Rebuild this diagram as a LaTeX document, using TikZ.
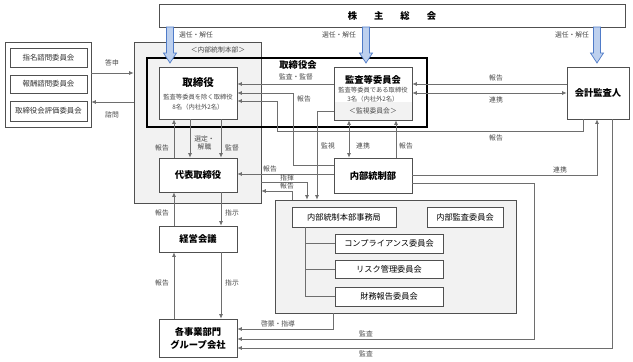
\documentclass[tikz,border=0pt]{standalone}
\usepackage{fontspec}
\setmainfont{Noto Sans CJK JP}
\usetikzlibrary{arrows.meta}
\definecolor{bordercol}{HTML}{505050}
\definecolor{linecol}{HTML}{6E6E6E}
\definecolor{lblcol}{HTML}{4A4A4A}
\definecolor{grayfill}{HTML}{F2F2F2}
\definecolor{fatfill}{HTML}{BDD0EE}
\definecolor{fatdraw}{HTML}{4F7BC8}
\tikzset{
  box/.style={draw=bordercol, line width=0.8pt, fill=white, inner sep=0pt, align=center},
  graybox/.style={draw=bordercol, line width=0.8pt, fill=grayfill, inner sep=0pt},
  conn/.style={draw=linecol, line width=0.7pt},
  arr/.style={conn, -{Latex[length=4.5pt,width=4pt]}},
  darr/.style={conn, {Latex[length=4.5pt,width=4pt]}-{Latex[length=4.5pt,width=4pt]}},
  lbl/.style={font=\fontsize{6.8}{7.5}\selectfont, text=lblcol, inner sep=0pt, align=center},
  ttl/.style={font=\fontsize{9.3}{13}\selectfont\bfseries, inner sep=0pt, align=center},
  bigttl/.style={font=\fontsize{10.5}{12}\selectfont\bfseries, inner sep=0pt},
  subtxt/.style={font=\fontsize{6.3}{7}\selectfont, text=lblcol, inner sep=0pt},
  small/.style={font=\fontsize{7.4}{8}\selectfont, text=black!80},
  comm/.style={font=\fontsize{8.2}{9}\selectfont},
  fat/.style={draw=fatdraw, fill=fatfill, line width=0.7pt, line join=miter}
}
\begin{document}
\begin{tikzpicture}[x=1pt,y=-1pt]
\useasboundingbox (0,0) rectangle (633,362);
\fill[white] (0,0) rectangle (633,362);

% containers
\node[graybox, minimum width=127pt, minimum height=161pt] (honbu) at (197.5,122.5) {};
\node[lbl] (honbutxt) at (218,50) {＜内部統制本部＞};
\node[graybox, minimum width=241pt, minimum height=113pt] (jimugray) at (395.5,256.5) {};
\node[draw=black, line width=1.6pt, inner sep=0pt, minimum width=280pt, minimum height=69pt] (kai) at (287,92.5) {};
\node[ttl] (kaitxt) at (298,65) {取締役会};

% shareholders
\node[box, ttl, minimum width=466pt, minimum height=23pt] (kabu) at (392,15.5) {株\hspace{17pt}主\hspace{17pt}総\hspace{17pt}会};
\foreach \c in {170,366,597}
  \draw[fat] ({\c-3.5},27) -- ({\c-3.5},53) -- ({\c-6.5},53) -- (\c,63) -- ({\c+6.5},53) -- ({\c+3.5},53) -- ({\c+3.5},27) -- cycle;
\node[lbl] (sen1) at (196,35) {選任・解任};
\node[lbl] (sen2) at (339,35) {選任・解任};
\node[lbl] (sen3) at (572,35) {選任・解任};

% left group
\node[box, minimum width=86pt, minimum height=85pt] (leftgrp) at (48,84.5) {};
\node[box, small, minimum width=77pt, minimum height=19pt] (shimei) at (48.5,57.5) {指名諮問委員会};
\node[box, small, minimum width=77pt, minimum height=18pt] (hoshu) at (48.5,84) {報酬諮問委員会};
\node[box, small, minimum width=77pt, minimum height=20pt] (hyoka) at (48.5,111) {取締役会評価委員会};

% main boxes
\node[box, minimum width=78pt, minimum height=52pt] (tori) at (198,93) {};
\node[bigttl] (toritxt) at (198,82.5) {取締役};
\node[subtxt] (torisub1) at (198,97.5) {監査等委員を除く取締役};
\node[subtxt] (torisub2) at (198,107.5) {8名（内社外2名）};

\node[box, minimum width=78pt, minimum height=53pt] (kansa) at (373,93.5) {};
\fill[grayfill] (334.5,102) rectangle (411.5,119.6);
\node[ttl] (kansatxt) at (373,80) {監査等委員会};
\node[subtxt] (kansasub1) at (373,90.5) {監査等委員である取締役};
\node[subtxt] (kansasub2) at (373,99) {3名（内社外2名）};
\node[lbl] (kansaband) at (373,110.5) {＜監視委員会＞};

\node[box, ttl, minimum width=62pt, minimum height=52pt] (kaikei) at (598,93) {会計監査人};
\node[box, ttl, minimum width=78pt, minimum height=34pt] (daihyo) at (198,175) {代表取締役};
\node[box, ttl, minimum width=78pt, minimum height=35pt] (naibu) at (373,175.5) {内部統制部};
\node[box, ttl, minimum width=78pt, minimum height=26pt] (keiei) at (198,239) {経営会議};
\node[box, ttl, minimum width=78pt, minimum height=38pt] (kaku) at (198,338) {各事業部門\\グループ会社};

% committees
\node[box, comm, minimum width=104pt, minimum height=20pt] (jimu) at (344,217) {内部統制本部事務局};
\node[box, comm, minimum width=76pt, minimum height=20pt] (naikan) at (465,217) {内部監査委員会};
\node[box, comm, minimum width=108pt, minimum height=19pt] (comp) at (389,243.5) {コンプライアンス委員会};
\node[box, comm, minimum width=108pt, minimum height=18pt] (risk) at (389,269) {リスク管理委員会};
\node[box, comm, minimum width=108pt, minimum height=19pt] (zaimu) at (389,296.5) {財務報告委員会};
\draw[conn] (jimu.south -| 305,0) |- (zaimu.west);
\draw[conn] (comp.west) -- (comp.west -| 305,0);
\draw[conn] (risk.west) -- (risk.west -| 305,0);

% connectors
\draw[arr] (leftgrp.east |- 0,73) -- (honbu.west |- 0,73);
\node[lbl] (l1) at (112,63) {答申};
\draw[arr] (honbu.west |- 0,102) -- (leftgrp.east |- 0,102);
\node[lbl] (l2) at (112,115) {諮問};

\draw[arr] (kansa.west |- 0,84) -- (tori.east |- 0,84);
\node[lbl] (l3) at (296,77) {監査・監督};
\draw[arr] (naibu.west |- 0,165) -| (293,93) -- (tori.east |- 0,93);
\node[lbl] (l4) at (304,98.5) {報告};
\draw[arr] (kaikei.south -| 583,0) |- (277,131) |- (tori.east |- 0,101);
\node[lbl] (l5) at (496,138) {報告};
\draw[arr] (kaikei.west |- 0,84) -- (kansa.east |- 0,84);
\node[lbl] (l6) at (496,78) {報告};
\draw[darr] (kansa.east |- 0,93) -- (kaikei.west |- 0,93);
\node[lbl] (l7) at (496,100) {連携};

\draw[arr] (kansa.west |- 0,111) -| (jimugray.north -| 317,0);
\node[lbl] (l8) at (328,146) {監視};
\draw[darr] (kansa.south -| 349,0) -- (naibu.north -| 349,0);
\node[lbl] (l9) at (363,146) {連携};
\draw[arr] (naibu.north -| 396,0) -- (kansa.south -| 396,0);
\node[lbl] (l10) at (406,146) {報告};

\draw[arr] (daihyo.north -| 174,0) -- (tori.south -| 174,0);
\node[lbl] (l11) at (162,148) {報告};
\draw[arr] (tori.south -| 190,0) -- (daihyo.north -| 190,0);
\node[lbl] (l12) at (204.5,143) {選定・\\解職};
\draw[arr] (tori.south -| 221,0) -- (daihyo.north -| 221,0);
\node[lbl] (l13) at (232,148) {監督};

\draw[arr] (naibu.west |- 0,174) -- (daihyo.east |- 0,174);
\node[lbl] (l14) at (270,169) {報告};
\draw[arr] (honbu.east |- 0,182) -| (jimugray.north -| 307,0);
\node[lbl] (l15) at (287,177.5) {指揮};
\draw[arr] (jimugray.north -| 292,0) |- (honbu.east |- 0,191);
\node[lbl] (l16) at (287,186) {報告};

\draw[arr] (keiei.north -| 174,0) -- (daihyo.south -| 174,0);
\node[lbl] (l17) at (162,213) {報告};
\draw[arr] (daihyo.south -| 221,0) -- (keiei.north -| 221,0);
\node[lbl] (l18) at (232,213) {指示};
\draw[arr] (kaku.north -| 174,0) -- (keiei.south -| 174,0);
\node[lbl] (l19) at (162,283) {報告};
\draw[arr] (keiei.south -| 221,0) -- (kaku.north -| 221,0);
\node[lbl] (l20) at (232,283) {指示};

\draw[arr] (naibu.east |- 0,175) -| (kaikei.south -| 597,0);
\node[lbl] (l21) at (560,170) {連携};
\draw[arr] (naibu.east |- 0,183) -| (534,339) -- (kaku.east |- 0,339);
\node[lbl] (l22) at (366,334) {監査};
\draw[arr] (kaikei.south -| 612,0) |- (kaku.east |- 0,348);
\node[lbl] (l23) at (366,354) {監査};
\draw[arr] (jimugray.south -| 333,0) |- (kaku.east |- 0,329);
\node[lbl] (l24) at (278,324) {啓蒙・指導};
\end{tikzpicture}
\end{document}
